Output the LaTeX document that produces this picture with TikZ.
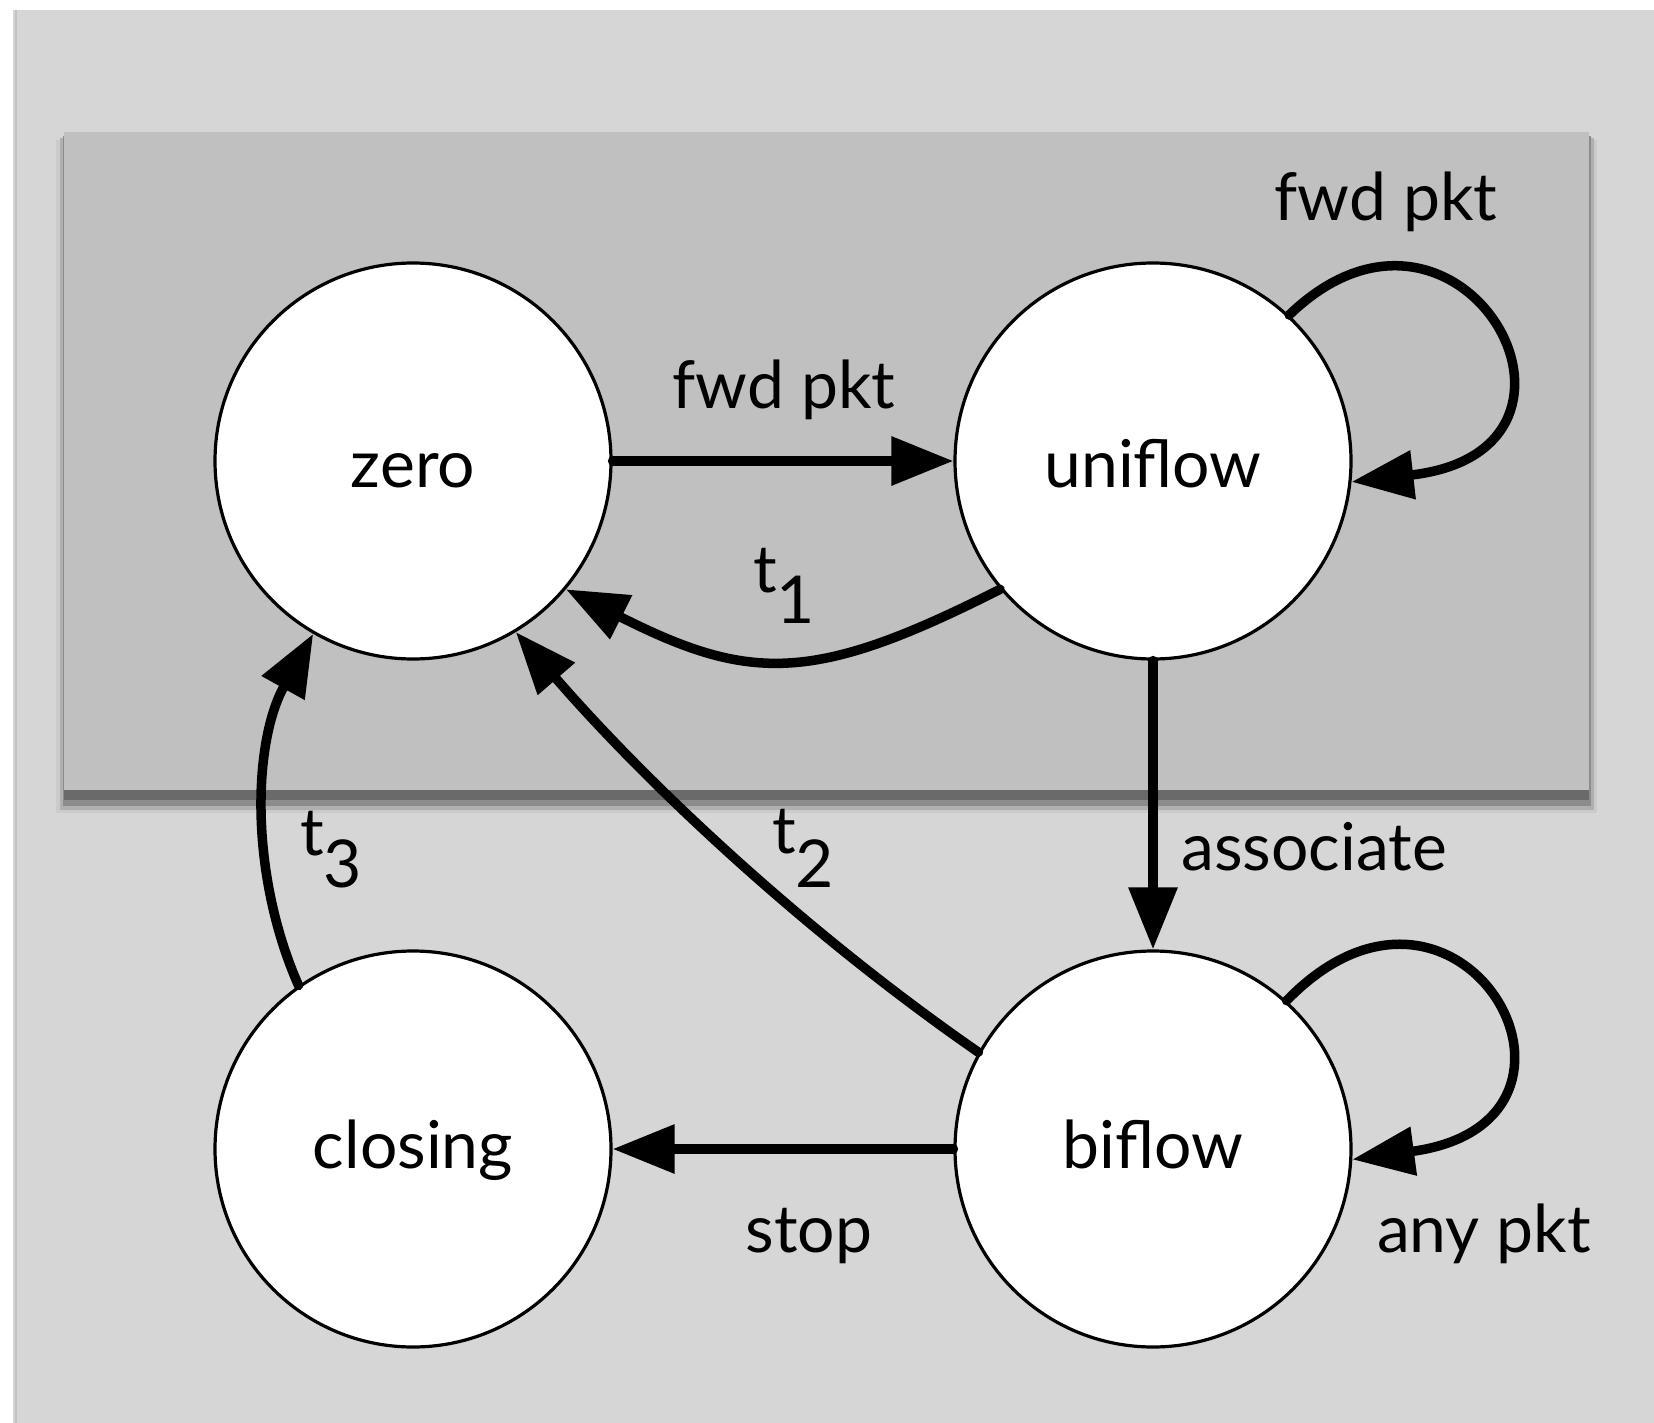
\documentclass[tikz,border=0pt]{standalone}
\usepackage{fontspec}
\setmainfont{Lato}
\usetikzlibrary{arrows.meta}
\definecolor{bgl}{HTML}{D6D6D6}
\definecolor{bgd}{HTML}{C0C0C0}
\definecolor{edgeg}{HTML}{C2C2C2}
\definecolor{sh1}{HTML}{CBCBCB}
\definecolor{sh2}{HTML}{B0B0B0}
\definecolor{sh3}{HTML}{8C8C8C}
\definecolor{sh4}{HTML}{6A6A6A}
\begin{document}
\begin{tikzpicture}[x=1pt,y=-1pt,
  every node/.style={font=\fontsize{66}{80}\selectfont},
  state/.style={circle, draw=black, fill=white, line width=3.2pt, minimum size=396pt,
    inner sep=0pt, text height=0pt, text depth=0pt},
  conn/.style={line width=9.5pt, line cap=round, -{Triangle[length=62pt,width=47pt]}},
  lab/.style={anchor=base, inner sep=0pt},
  labw/.style={anchor=base west, inner sep=0pt}]
\useasboundingbox (0,0) rectangle (1654,1423);
% background
\fill[white] (0,0) rectangle (1654,1423);
\fill[bgl] (13,10) rectangle (1654,1423);
\fill[edgeg] (15,10) rectangle (17,1423);
% shaded panel with shadow
\fill[sh1] (56,140) rectangle (1597,813);
\fill[sh2] (60,138) rectangle (1594,810);
\fill[sh3] (63,136) rectangle (1591,806);
\fill[sh4] (64,136) rectangle (1589,800);
\fill[bgd] (64,132) rectangle (1589,790);
% states
\node[state] (zero) at (413,461) {\raisebox{-26pt}[0pt][0pt]{zero}};
\node[state] (uni) at (1153,461) {\raisebox{-26pt}[0pt][0pt]{uniflow}};
\node[state] (clo) at (413,1149) {\raisebox{-19pt}[0pt][0pt]{closing}};
\node[state] (bi) at (1153,1149) {\raisebox{-19pt}[0pt][0pt]{biflow}};
% connectors
\draw[conn] (zero.east) -- (uni.west);
\draw[conn] (uni.220) .. controls (815,683) and (751,683) .. (zero.320);
\draw[conn] (uni.south) -- (bi.north);
\draw[conn] (bi.west) -- (clo.east);
\draw[conn] (bi.151) .. controls (809,935) and (651,788) .. (zero.301);
\draw[conn] (clo.125) .. controls (249,873) and (253,742) .. (zero.240);
\draw[conn] (uni.47) .. controls (1460,150) and (1630,450) .. (uni.354);
\draw[conn] (bi.48) .. controls (1460,822) and (1630,1122) .. (bi.357);
% labels
\node[lab] (l1) at (784,408) {fwd pkt};
\node[lab] (l2) at (1386,221) {fwd pkt};
\node[lab] (l3) at (1314,870) {associate};
\node[lab] (l4) at (809,1252) {stop};
\node[lab] (l5) at (1484,1252) {any pkt};
\node[labw] (l6) at (753,592) {t\raisebox{-31pt}{1}};
\node[labw] (l7) at (772,853) {t\raisebox{-34pt}{2}};
\node[labw] (l8) at (300,855) {t\raisebox{-32pt}{3}};
\end{tikzpicture}
\end{document}
